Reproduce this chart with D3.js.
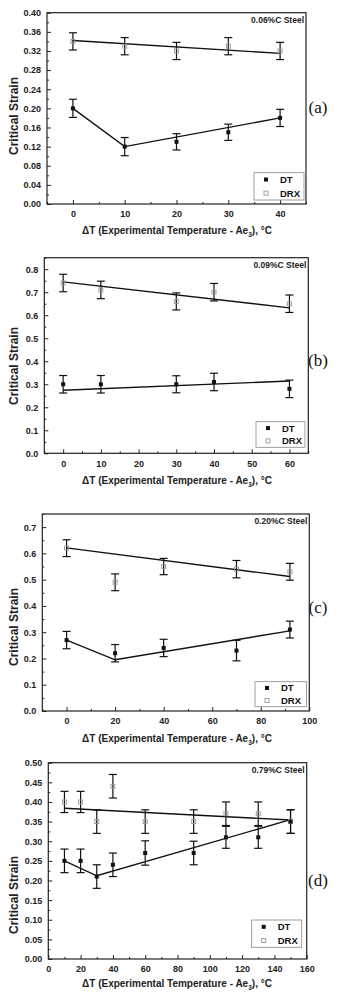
<!DOCTYPE html>
<html><head><meta charset="utf-8">
<script src="https://cdn.jsdelivr.net/npm/d3@7"></script>
<style>
html,body{margin:0;padding:0;background:#fff;}
svg{display:block;}
text{font-family:"Liberation Sans",Arial,Helvetica,sans-serif;}
</style></head>
<body>
<svg id="chart" width="349" height="998"></svg>
<script>
// ---------- DATA ----------
// Panel (a) 0.06%C Steel
const aTitle = "0.06%C Steel";
const aX = [0, 10, 20, 30, 40];
const aDT = [0.20, 0.12, 0.13, 0.15, 0.18];
const aDTerr = [0.019, 0.019, 0.017, 0.017, 0.018];
const aDRX = [0.34, 0.33, 0.32, 0.33, 0.32];
const aDRXerr = [0.018, 0.018, 0.018, 0.018, 0.018];
const aDTfit = [[0, 0.20], [10, 0.12], [40, 0.18]];
const aDRXfit = [[0, 0.342], [40, 0.315]];
const aXticks = [0, 10, 20, 30, 40];
const aYticks = [0.00, 0.04, 0.08, 0.12, 0.16, 0.20, 0.24, 0.28, 0.32, 0.36, 0.40];

// Panel (b) 0.09%C Steel
const bTitle = "0.09%C Steel";
const bX = [0, 10, 30, 40, 60];
const bDT = [0.30, 0.30, 0.30, 0.31, 0.28];
const bDTerr = [0.038, 0.038, 0.037, 0.038, 0.038];
const bDRX = [0.74, 0.71, 0.66, 0.70, 0.65];
const bDRXerr = [0.038, 0.038, 0.037, 0.038, 0.038];
const bDTfit = [[0, 0.274], [60, 0.314]];
const bDRXfit = [[0, 0.745], [60, 0.632]];
const bXticks = [0, 10, 20, 30, 40, 50, 60];
const bYticks = [0.0, 0.1, 0.2, 0.3, 0.4, 0.5, 0.6, 0.7, 0.8];

// Panel (c) 0.20%C Steel
const cTitle = "0.20%C Steel";
const cX = [0, 20, 40, 70, 92];
const cDT = [0.27, 0.22, 0.24, 0.23, 0.31];
const cDTerr = [0.033, 0.033, 0.033, 0.039, 0.032];
const cDRX = [0.62, 0.49, 0.55, 0.54, 0.53];
const cDRXerr = [0.032, 0.032, 0.031, 0.033, 0.032];
const cDTfit = [[0, 0.27], [20, 0.195], [92, 0.305]];
const cDRXfit = [[0, 0.621], [92, 0.512]];
const cXticks = [0, 20, 40, 60, 80, 100];
const cYticks = [0.0, 0.1, 0.2, 0.3, 0.4, 0.5, 0.6, 0.7];

// Panel (d) 0.79%C Steel
const dTitle = "0.79%C Steel";
const dX = [10, 20, 30, 40, 60, 90, 110, 130, 150];
const dDT = [0.25, 0.25, 0.21, 0.24, 0.27, 0.27, 0.31, 0.31, 0.35];
const dDTerr = [0.03, 0.03, 0.03, 0.03, 0.031, 0.03, 0.028, 0.028, 0.03];
const dDRX = [0.40, 0.40, 0.35, 0.44, 0.35, 0.35, 0.37, 0.37, 0.35];
const dDRXerr = [0.027, 0.027, 0.03, 0.03, 0.03, 0.03, 0.03, 0.03, 0.03];
const dDTfit = [[10, 0.25], [30, 0.212], [150, 0.355]];
const dDRXfit = [[10, 0.384], [150, 0.354]];
const dXticks = [0, 20, 40, 60, 80, 100, 120, 140, 160];
const dYticks = [0.00, 0.05, 0.10, 0.15, 0.20, 0.25, 0.30, 0.35, 0.40, 0.45, 0.50];

const yTitle = "Critical Strain";
const legendLabels = ["DT", "DRX"];

// ---------- LAYOUT ----------
const panels = [
  {tag:"(a)", title:aTitle, x:aX, dt:aDT, dte:aDTerr, drx:aDRX, drxe:aDRXerr, dtfit:aDTfit, drxfit:aDRXfit,
   xt:aXticks, yt:aYticks, xdom:[-5,45], ydom:[0,0.40], xminor:5, yminor:0.02, yfmt:".2f",
   L:47, R:306, T:12.7, B:204, yTitleY:116, xTitleY:234, tagY:107,
   leg:[254,172.7,304,200]},
  {tag:"(b)", title:bTitle, x:bX, dt:bDT, dte:bDTerr, drx:bDRX, drxe:bDRXerr, dtfit:bDTfit, drxfit:bDRXfit,
   xt:bXticks, yt:bYticks, xdom:[-5,65], ydom:[0,0.85], xminor:5, yminor:0.05, yfmt:".1f",
   L:44.3, R:308.3, T:257.7, B:453.3, yTitleY:366, xTitleY:484, tagY:360,
   leg:[256,421.7,305,447.3]},
  {tag:"(c)", title:cTitle, x:cX, dt:cDT, dte:cDTerr, drx:cDRX, drxe:cDRXerr, dtfit:cDTfit, drxfit:cDRXfit,
   xt:cXticks, yt:cYticks, xdom:[-10,100], ydom:[0,0.75], xminor:10, yminor:0.05, yfmt:".1f",
   L:42.3, R:309.3, T:514, B:711, yTitleY:627, xTitleY:742, tagY:607,
   leg:[255,681.7,306.5,706.7]},
  {tag:"(d)", title:dTitle, x:dX, dt:dDT, dte:dDTerr, drx:dDRX, drxe:dDRXerr, dtfit:dDTfit, drxfit:dDRXfit,
   xt:dXticks, yt:dYticks, xdom:[0,160], ydom:[0,0.50], xminor:10, yminor:0.025, yfmt:".2f",
   L:48.3, R:306.7, T:762.7, B:959, yTitleY:895, xTitleY:987, tagY:880,
   leg:[251.7,920,301.7,947.3]}
];

const svg = d3.select("#chart");

panels.forEach(p => {
  const g = svg.append("g");
  const x = d3.scaleLinear().domain(p.xdom).range([p.L, p.R]);
  const y = d3.scaleLinear().domain(p.ydom).range([p.B, p.T]);

  const xMinor = d3.range(p.xdom[0], p.xdom[1] + 1e-9, p.xminor).filter(v => !p.xt.some(t => Math.abs(t - v) < 1e-9));
  const yMinor = d3.range(p.ydom[0], p.ydom[1] + 1e-9, p.yminor).filter(v => !p.yt.some(t => Math.abs(t - v) < 1e-9));

  const xAxis = d3.axisBottom(x).tickValues(p.xt).tickSizeInner(-4).tickSizeOuter(0).tickPadding(7).tickFormat(d3.format("d"));
  const gx = g.append("g").attr("transform", `translate(0,${p.B})`).call(xAxis);
  gx.selectAll("text").attr("font-size", 9).attr("font-weight", "bold").attr("fill", "#222");
  gx.select(".domain").remove();
  g.append("g").attr("transform", `translate(0,${p.B})`)
    .call(d3.axisBottom(x).tickValues(xMinor).tickSizeInner(-2).tickSizeOuter(0).tickFormat(""))
    .select(".domain").remove();

  const yAxis = d3.axisLeft(y).tickValues(p.yt).tickSizeInner(-4).tickSizeOuter(0).tickPadding(6).tickFormat(d3.format(p.yfmt));
  const gy = g.append("g").attr("transform", `translate(${p.L},0)`).call(yAxis);
  gy.selectAll("text").attr("font-size", 9).attr("font-weight", "bold").attr("fill", "#222");
  gy.select(".domain").remove();
  g.append("g").attr("transform", `translate(${p.L},0)`)
    .call(d3.axisLeft(y).tickValues(yMinor).tickSizeInner(-2).tickSizeOuter(0).tickFormat(""))
    .select(".domain").remove();
  g.selectAll(".tick line").attr("stroke", "#222").attr("stroke-width", 1);

  g.append("rect").attr("x", p.L).attr("y", p.T).attr("width", p.R - p.L).attr("height", p.B - p.T)
    .attr("fill", "none").attr("stroke", "#222").attr("stroke-width", 1.2);

  const line = d3.line().x(d => x(d[0])).y(d => y(d[1]));
  g.append("path").attr("d", line(p.drxfit)).attr("fill", "none").attr("stroke", "#111").attr("stroke-width", 1.4);
  g.append("path").attr("d", line(p.dtfit)).attr("fill", "none").attr("stroke", "#111").attr("stroke-width", 1.4);

  const cap = 4;
  function errBars(vals, errs) {
    const eg = g.append("g").attr("stroke", "#111").attr("stroke-width", 1.2);
    p.x.forEach((xv, i) => {
      const cx = x(xv), y1 = y(vals[i] + errs[i]), y2 = y(vals[i] - errs[i]);
      eg.append("line").attr("x1", cx).attr("x2", cx).attr("y1", y1).attr("y2", y2);
      eg.append("line").attr("x1", cx - cap).attr("x2", cx + cap).attr("y1", y1).attr("y2", y1);
      eg.append("line").attr("x1", cx - cap).attr("x2", cx + cap).attr("y1", y2).attr("y2", y2);
    });
  }
  errBars(p.drx, p.drxe);
  errBars(p.dt, p.dte);

  const s = 4;
  g.append("g").selectAll("rect").data(p.x).join("rect")
    .attr("x", (d) => x(d) - s / 2).attr("y", (d, i) => y(p.drx[i]) - s / 2)
    .attr("width", s).attr("height", s).attr("fill", "none").attr("stroke", "#999").attr("stroke-width", 0.9);
  g.append("g").selectAll("rect").data(p.x).join("rect")
    .attr("x", (d) => x(d) - s / 2).attr("y", (d, i) => y(p.dt[i]) - s / 2)
    .attr("width", s).attr("height", s).attr("fill", "#111");

  g.append("text").attr("x", p.R - 2).attr("y", p.T + 10).attr("text-anchor", "end")
    .attr("font-size", 8.5).attr("font-weight", "bold").attr("fill", "#222").text(p.title);

  const [lx1, ly1, lx2, ly2] = p.leg;
  g.append("rect").attr("x", lx1).attr("y", ly1).attr("width", lx2 - lx1).attr("height", ly2 - ly1)
    .attr("fill", "#fff").attr("stroke", "#888").attr("stroke-width", 0.8);
  const rowH = (ly2 - ly1) / 2;
  legendLabels.forEach((lab, i) => {
    const cy = ly1 + rowH * (i + 0.5);
    if (i === 0) g.append("rect").attr("x", lx1 + 10).attr("y", cy - 2).attr("width", 4).attr("height", 4).attr("fill", "#111");
    else g.append("rect").attr("x", lx1 + 10).attr("y", cy - 2).attr("width", 4).attr("height", 4).attr("fill", "none").attr("stroke", "#999").attr("stroke-width", 0.9);
    g.append("text").attr("x", lx1 + 26).attr("y", cy + 3.4).attr("font-size", 9.5).attr("font-weight", "bold").attr("fill", "#111").text(lab);
  });

  g.append("text").attr("transform", `translate(18,${p.yTitleY}) rotate(-90)`).attr("text-anchor", "middle")
    .attr("font-size", 12).attr("font-weight", "bold").attr("fill", "#222").text(yTitle);

  const xt = g.append("text").attr("x", 177).attr("y", p.xTitleY).attr("text-anchor", "middle")
    .attr("font-size", 10).attr("font-weight", "bold").attr("fill", "#222");
  xt.append("tspan").text("\u0394T (Experimental Temperature - Ae");
  xt.append("tspan").attr("font-size", 6.5).attr("dy", 2.5).text("3");
  xt.append("tspan").attr("dy", -2.5).text("), \u00B0C");

  g.append("text").attr("x", 318).attr("y", p.tagY + 6).attr("text-anchor", "middle")
    .style("font-family", "'Liberation Serif','Times New Roman',serif").attr("font-size", 17)
    .attr("fill", "#111").text(p.tag);
});
</script>
</body></html>
